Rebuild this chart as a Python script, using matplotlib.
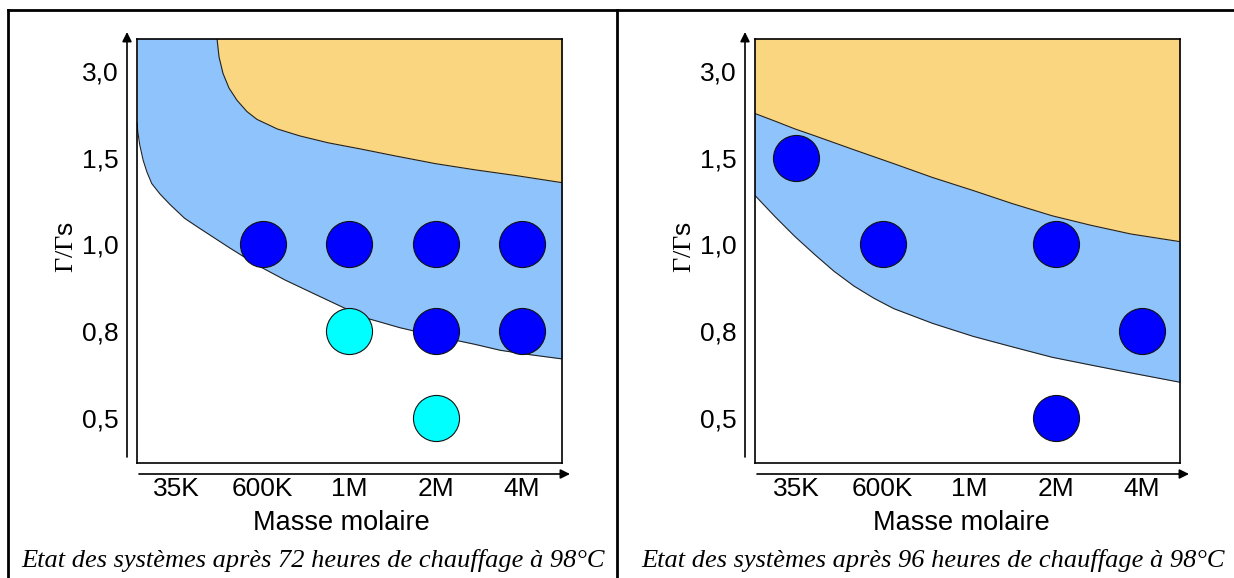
import matplotlib.pyplot as plt

plt.rcParams["mathtext.fontset"] = "custom"
plt.rcParams["mathtext.rm"] = "Liberation Serif"

W, H = 1234, 578

masses = ["35K", "600K", "1M", "2M", "4M"]
ratios = ["0,5", "0,8", "1,0", "1,5", "3,0"]

captions = [
    "Etat des systèmes après 72 heures de chauffage à 98°C",
    "Etat des systèmes après 96 heures de chauffage à 98°C",
]

# points: index in masses, index in ratios
left_dark_x = [1, 2, 3, 4, 3, 4]
left_dark_y = [2, 2, 2, 2, 1, 1]
left_cyan_x = [2, 3]
left_cyan_y = [1, 0]
right_dark_x = [0, 1, 3, 4, 3]
right_dark_y = [3, 2, 2, 1, 0]

# region boundaries (same units)
left_orange_x = [0.474, 0.497, 0.543, 0.613, 0.705, 0.82, 0.936, 1.17, 1.43, 1.76, 2.13, 2.53, 3.00, 3.45, 3.95, 4.47]
left_orange_y = [4.37, 4.16, 3.97, 3.80, 3.66, 3.53, 3.44, 3.33, 3.25, 3.17, 3.10, 3.02, 2.93, 2.86, 2.79, 2.71]
left_blue_x = [-0.448, -0.445, -0.42, -0.38, -0.335, -0.28, -0.185, -0.07, 0.10, 0.25, 0.62, 0.94, 1.26,
               1.62, 1.94, 2.24, 2.59, 3.00, 3.45, 3.75, 4.09, 4.47]
left_blue_y = [3.40, 3.32, 3.15, 2.97, 2.83, 2.70, 2.58, 2.46, 2.30, 2.20, 1.96, 1.76, 1.59,
               1.42, 1.27, 1.14, 1.04, 0.945, 0.85, 0.78, 0.73, 0.68]

right_orange_x = [-0.48, -0.243, -0.012, 0.22, 0.67, 1.13, 1.58, 2.05, 2.50, 2.96, 3.41, 3.87, 4.45]
right_orange_y = [3.51, 3.42, 3.33, 3.25, 3.09, 2.93, 2.77, 2.62, 2.47, 2.33, 2.22, 2.12, 2.03]
right_blue_x = [-0.48, -0.243, -0.012, 0.22, 0.44, 0.67, 0.90, 1.13, 1.58, 2.05, 2.50, 2.96, 3.41, 3.87, 4.45]
right_blue_y = [2.57, 2.32, 2.09, 1.88, 1.69, 1.52, 1.38, 1.26, 1.09, 0.94, 0.82, 0.70, 0.61, 0.52, 0.41]

ORANGE = "#fad680"
BLUE = "#8fc3fb"
DARK = "#0000ff"
CYAN = "#00ffff"

fig = plt.figure(figsize=(W / 100, H / 100), dpi=100)


def panel(x_left, x_right, xmin, xmax, blue_x, blue_y, orange_x, orange_y, dots):
    top, bottom = 39, 463
    ax = fig.add_axes([x_left / W, 1 - bottom / H, (x_right - x_left) / W, (bottom - top) / H])
    ymin, ymax = -0.518, 4.366
    ax.set_xlim(xmin, xmax)
    ax.set_ylim(ymin, ymax)
    ax.fill_between(blue_x, blue_y, ymax + 1, color=BLUE, lw=0)
    ax.fill_between(orange_x, orange_y, ymax + 1, color=ORANGE, lw=0)
    ax.plot(blue_x, blue_y, color="#222222", lw=0.8)
    ax.plot(orange_x, orange_y, color="#222222", lw=0.8)
    for xs, ys, c in dots:
        ax.scatter(xs, ys, s=1100, color=c, edgecolor="#111111", linewidth=0.8, zorder=5, clip_on=False)
    ax.set_xticks(range(len(masses)), masses)
    ax.set_yticks(range(len(ratios)), ratios)
    ax.tick_params(axis="x", length=0, pad=10, labelsize=19)
    ax.tick_params(axis="y", length=0, pad=13, labelsize=19)
    for s in ax.spines.values():
        s.set_linewidth(1.2)
    for lab in ax.get_xticklabels() + ax.get_yticklabels():
        lab.set_fontfamily("Liberation Sans")
    return ax


panel(137, 562, -0.451, 4.462, left_blue_x, left_blue_y, left_orange_x, left_orange_y,
      [(left_dark_x, left_dark_y, DARK), (left_cyan_x, left_cyan_y, CYAN)])
panel(755, 1180, -0.474, 4.439, right_blue_x, right_blue_y, right_orange_x, right_orange_y,
      [(right_dark_x, right_dark_y, DARK)])

# overlay in pixel units for frame, arrows and captions
ov = fig.add_axes([0, 0, 1, 1])
ov.set_xlim(0, W)
ov.set_ylim(H, 0)
ov.axis("off")
ov.patch.set_alpha(0)

ov.plot([8, W], [10, 10], color="k", lw=2)
ov.plot([8, 8], [10, H], color="k", lw=2)
ov.plot([617, 617], [10, H], color="k", lw=2)

arrow = dict(arrowstyle="-|>", color="k", lw=1.2, mutation_scale=14, shrinkA=0, shrinkB=0)
for ya, xb0, xb1, cx, cap in [(127, 139, 570, 341, captions[0]), (745, 757, 1189, 961, captions[1])]:
    ov.annotate("", xy=(ya, 32), xytext=(ya, 457), arrowprops=arrow)
    ov.annotate("", xy=(xb1, 474), xytext=(xb0, 474), arrowprops=arrow)
    ov.text(cx, 523, "Masse molaire", ha="center", va="center", fontsize=19.5, family="Liberation Sans")
    ov.text(ya - 61, 247, r"$\mathrm{\Gamma/\Gamma}$s", rotation=90, ha="center", va="center",
            fontsize=19, family="Liberation Sans")
    ov.text((cx - 341) + 313, 560, cap, ha="center", va="center", fontsize=19, style="italic",
            family="Liberation Serif")

fig.savefig("out.png", dpi=100)
